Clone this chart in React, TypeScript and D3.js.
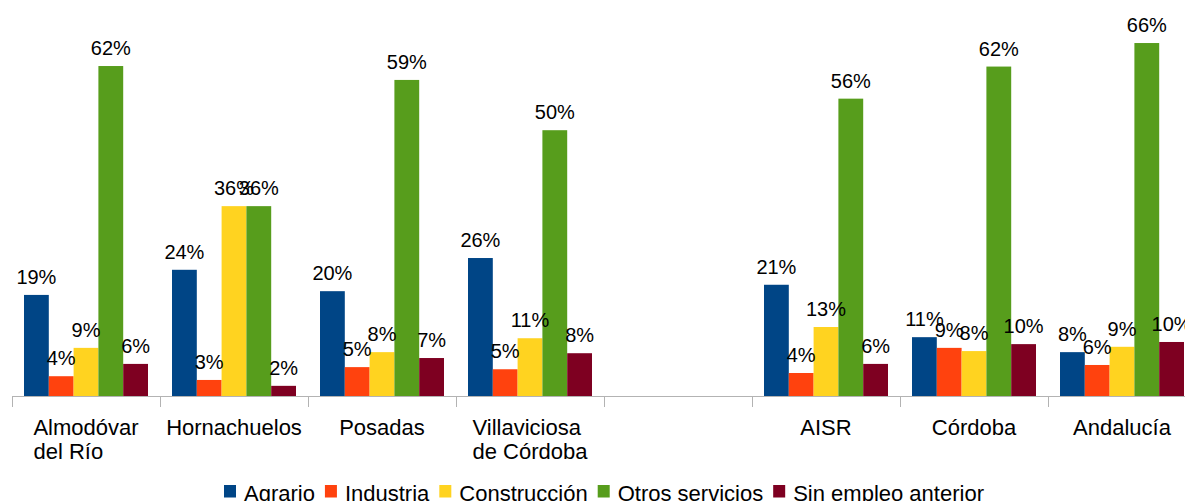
import { useEffect, useRef } from 'react';
import * as d3 from 'd3';

const categories = [
  'Almodóvar\ndel Río',
  'Hornachuelos',
  'Posadas',
  'Villaviciosa\nde Córdoba',
  '',
  'AISR',
  'Córdoba',
  'Andalucía',
];

const seriesNames = ['Agrario', 'Industria', 'Construcción', 'Otros servicios', 'Sin empleo anterior'];
const colors = ['#004586', '#ff420e', '#ffd320', '#579d1c', '#7e0021'];

const agrario = [18.9, 23.6, 19.6, 25.8, null, 20.8, 11.0, 8.2];
const industria = [3.7, 3.0, 5.4, 5.0, null, 4.3, 9.0, 5.8];
const construccion = [9.0, 35.5, 8.2, 10.8, null, 12.9, 8.4, 9.2];
const otrosServicios = [61.7, 35.5, 59.1, 49.7, null, 55.6, 61.6, 66.0];
const sinEmpleo = [6.0, 1.9, 7.1, 8.0, null, 6.0, 9.7, 10.1];

const series = [agrario, industria, construccion, otrosServicios, sinEmpleo];

const W = 1185;
const H = 501;
const FONT = '"Liberation Sans", Arial, sans-serif';

function BarChart() {
  const svgRef = useRef<SVGSVGElement>(null);

  useEffect(() => {
    const svg = d3.select(svgRef.current);
    svg.selectAll('*').remove();

    const baseY = 396;
    const x = d3
      .scaleBand()
      .domain(categories.map((_, i) => String(i)))
      .range([12, 12 + categories.length * 148])
      .padding(0);
    const inner = d3
      .scaleBand()
      .domain(seriesNames)
      .range([12, x.bandwidth() - 12]);
    const y = d3.scaleLinear().domain([0, 70]).range([baseY, baseY - 70 * 5.348]);

    const groups = svg
      .selectAll('g.cat')
      .data(categories)
      .enter()
      .append('g')
      .attr('class', 'cat')
      .attr('transform', (_, i) => `translate(${x(String(i))},0)`);

    seriesNames.forEach((name, s) => {
      groups
        .filter((_, i) => series[s][i] != null)
        .append('rect')
        .attr('x', inner(name)!)
        .attr('width', inner.bandwidth())
        .attr('y', d => y(series[s][categories.indexOf(d)] as number))
        .attr('height', d => baseY - y(series[s][categories.indexOf(d)] as number))
        .attr('fill', colors[s]);
    });

    seriesNames.forEach((name, s) => {
      groups
        .filter((_, i) => series[s][i] != null)
        .append('text')
        .attr('x', inner(name)! + inner.bandwidth() / 2)
        .attr('y', d => y(series[s][categories.indexOf(d)] as number) - 11)
        .attr('text-anchor', 'middle')
        .style('font-family', FONT)
        .style('font-size', '20px')
        .style('fill', '#000')
        .text(d => `${Math.round(series[s][categories.indexOf(d)] as number)}%`);
    });

    // axis
    svg
      .append('line')
      .attr('x1', 12)
      .attr('x2', W)
      .attr('y1', baseY + 0.5)
      .attr('y2', baseY + 0.5)
      .attr('stroke', '#b3b3b3')
      .attr('stroke-width', 1);

    d3.range(categories.length + 1).forEach(i => {
      const tx = Math.round(12 + i * x.bandwidth()) + 0.5;
      svg
        .append('line')
        .attr('x1', tx)
        .attr('x2', tx)
        .attr('y1', baseY)
        .attr('y2', baseY + 11)
        .attr('stroke', '#b3b3b3')
        .attr('stroke-width', 1);
    });

    // category labels: lines left-aligned, block centred in the band
    categories.forEach((c, i) => {
      if (!c) return;
      const lines = c.split('\n');
      const t = svg
        .append('text')
        .style('font-family', FONT)
        .style('font-size', '22px')
        .style('fill', '#000');
      lines.forEach((l, k) => {
        t.append('tspan').attr('y', 435 + k * 24).text(l);
      });
      const widths = t
        .selectAll<SVGTSpanElement, unknown>('tspan')
        .nodes()
        .map(n => n.getComputedTextLength());
      const bw = d3.max(widths) || 0;
      const cx = (x(String(i)) as number) + x.bandwidth() / 2;
      t.selectAll('tspan').attr('x', cx - bw / 2);
    });

    // legend
    const legend = svg.append('g');
    let lx = 224;
    seriesNames.forEach((name, s) => {
      legend
        .append('rect')
        .attr('x', lx)
        .attr('y', 485)
        .attr('width', 12)
        .attr('height', 12.5)
        .attr('fill', colors[s]);
      const t = legend
        .append('text')
        .attr('x', lx + 20)
        .attr('y', 501)
        .style('font-family', FONT)
        .style('font-size', '22px')
        .style('fill', '#000')
        .text(name);
      const tw = (t.node() as SVGTextElement).getComputedTextLength();
      lx = lx + 20 + tw + 10;
    });
  }, []);

  return (
    <svg
      ref={svgRef}
      width={W}
      height={H}
      style={{ position: 'absolute', left: 0, top: 0, display: 'block', background: '#fff' }}
    />
  );
}

export default function App() {
  return <BarChart />;
}
